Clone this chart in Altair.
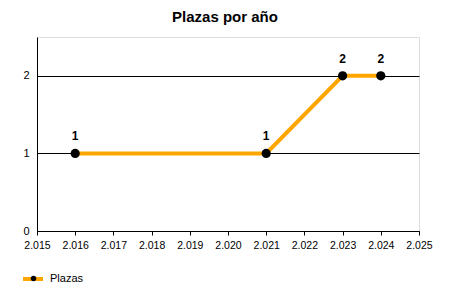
import altair as alt
import pandas as pd

years = [2016, 2021, 2023, 2024]
plazas = [1, 1, 2, 2]
series = ["Plazas"] * len(years)
x_ticks = list(range(2015, 2026))
y_ticks = [0, 1, 2]

df = pd.DataFrame({"year": years, "plazas": plazas, "serie": series})

FONT = "Liberation Sans"

x_enc = alt.X(
    "year:Q",
    scale=alt.Scale(domain=[2015, 2025], nice=False, zero=False),
    axis=alt.Axis(
        values=x_ticks,
        labelExpr="substring(toString(datum.value),0,1) + '.' + substring(toString(datum.value),1)",
        title=None, grid=False, tickSize=4, tickColor="black", domainColor="black",
        labelColor="black", labelFont=FONT, labelFontSize=10.5, labelPadding=5,
        labelFlush=False, labelOverlap=False,
    ),
)
y_enc = alt.Y(
    "plazas:Q",
    scale=alt.Scale(domain=[0, 2.5], nice=False),
    axis=alt.Axis(
        values=y_ticks, format="d", title=None, grid=True, gridColor="black", gridOpacity=1,
        tickSize=0, domainColor="black", labelColor="black", labelFont=FONT,
        labelFontSize=11, labelPadding=8,
    ),
)

base = alt.Chart(df)

line = base.mark_line(strokeWidth=4).encode(
    x=x_enc, y=y_enc,
    stroke=alt.Stroke(
        "serie:N",
        scale=alt.Scale(domain=["Plazas"], range=["#FFA500"]),
        legend=alt.Legend(
            title=None, orient="none", legendX=-16, legendY=230,
            symbolType="stroke", symbolStrokeWidth=4, symbolSize=400,
            labelFont=FONT, labelFontSize=11, labelColor="black", labelOffset=5,
        ),
    ),
)

points = base.mark_point(filled=True, size=85, opacity=1).encode(
    x=x_enc, y=y_enc,
    fill=alt.Fill(
        "serie:N",
        scale=alt.Scale(domain=["Plazas"], range=["black"]),
        legend=alt.Legend(
            title=None, orient="none", legendX=-9, legendY=236,
            symbolType="circle", symbolSize=30, symbolStrokeWidth=0,
            labelExpr="''", labelFontSize=11,
        ),
    ),
)

labels = base.mark_text(
    dy=-10, fontWeight="bold", font=FONT, fontSize=12, color="black", baseline="bottom"
).encode(x=x_enc, y=y_enc, text="plazas:Q")

chart = (
    alt.layer(line, points, labels)
    .resolve_scale(fill="independent", stroke="independent")
    .properties(
        width=382, height=194,
        autosize=alt.AutoSizeParams(type="none"),
        padding={"left": 37, "top": 37, "right": 31, "bottom": 69},
        title=alt.TitleParams(
            "Plazas por año", font=FONT, fontSize=15, fontWeight="bold",
            color="black", anchor="middle", offset=12, dx=-3,
        ),
    )
    .configure_view(stroke=None)
    .configure_axis(labelOverlap=False)
    .configure(background="white")
)

chart.save("out.html", embed_options={"renderer": "svg", "actions": False})
